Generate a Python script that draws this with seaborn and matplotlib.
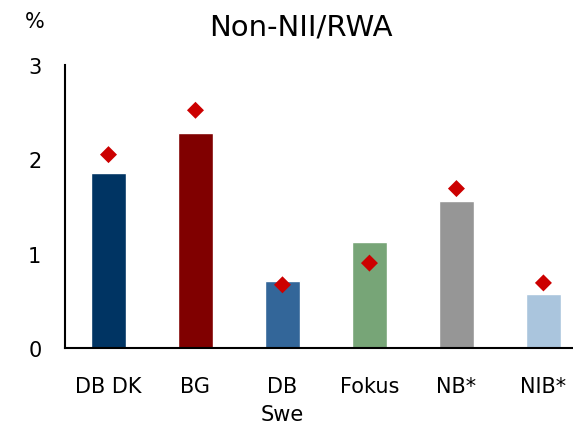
import matplotlib
matplotlib.use("Agg")
import matplotlib.pyplot as plt
import seaborn as sns
import pandas as pd

categories = ["DB DK", "BG", "DB\nSwe", "Fokus", "NB*", "NIB*"]
bar_values = [1.86, 2.28, 0.71, 1.12, 1.56, 0.57]
diamond_values = [2.05, 2.52, 0.67, 0.90, 1.69, 0.69]
bar_colors = ["#003463", "#800000", "#336699", "#77A577", "#969696", "#AAC5DD"]
yticks = [0, 1, 2, 3]

sns.set_theme(style="white")
plt.rcParams['font.family'] = ['DejaVu Sans']
plt.rcParams['text.color'] = 'black'
plt.rcParams['xtick.color'] = 'black'
plt.rcParams['ytick.color'] = 'black'

df = pd.DataFrame({"cat": categories, "bar": bar_values, "dia": diamond_values})

fig = plt.figure(figsize=(5.73, 4.27), dpi=100)
ax = fig.add_axes([65/573, 1 - 349/427, (573-65)/573, (349-66)/427])

sns.barplot(data=df, x="cat", y="bar", hue="cat", palette=bar_colors,
            width=0.41, legend=False, ax=ax, saturation=1)
sns.scatterplot(data=df, x="cat", y="dia", marker="D", color="#CC0000",
                s=75, edgecolor="none", ax=ax, zorder=5)

ax.set_ylim(0, 3)
ax.set_xlim(-0.5, 5.34)
ax.set_yticks(yticks)
ax.set_yticklabels([str(t) for t in yticks], fontsize=15)
ax.tick_params(axis="x", labelsize=15, length=0, pad=20, colors="black")
ax.tick_params(axis="y", length=0, pad=17, colors="black")
for lab in ax.get_xticklabels():
    lab.set_verticalalignment("top")
    lab.set_linespacing(1.5)
ax.set_xlabel("")
ax.set_ylabel("")
for s in ["top", "right"]:
    ax.spines[s].set_visible(False)
for s in ["left", "bottom"]:
    ax.spines[s].set_color("black")
    ax.spines[s].set_linewidth(1.5)

fig.text(0.525, 1 - 27/427, "Non-NII/RWA", ha="center", va="center", fontsize=21, color="black")
fig.text(35/573, 1 - 22/427, "%", ha="center", va="center", fontsize=15, color="black")

fig.savefig("out.png", dpi=100)
